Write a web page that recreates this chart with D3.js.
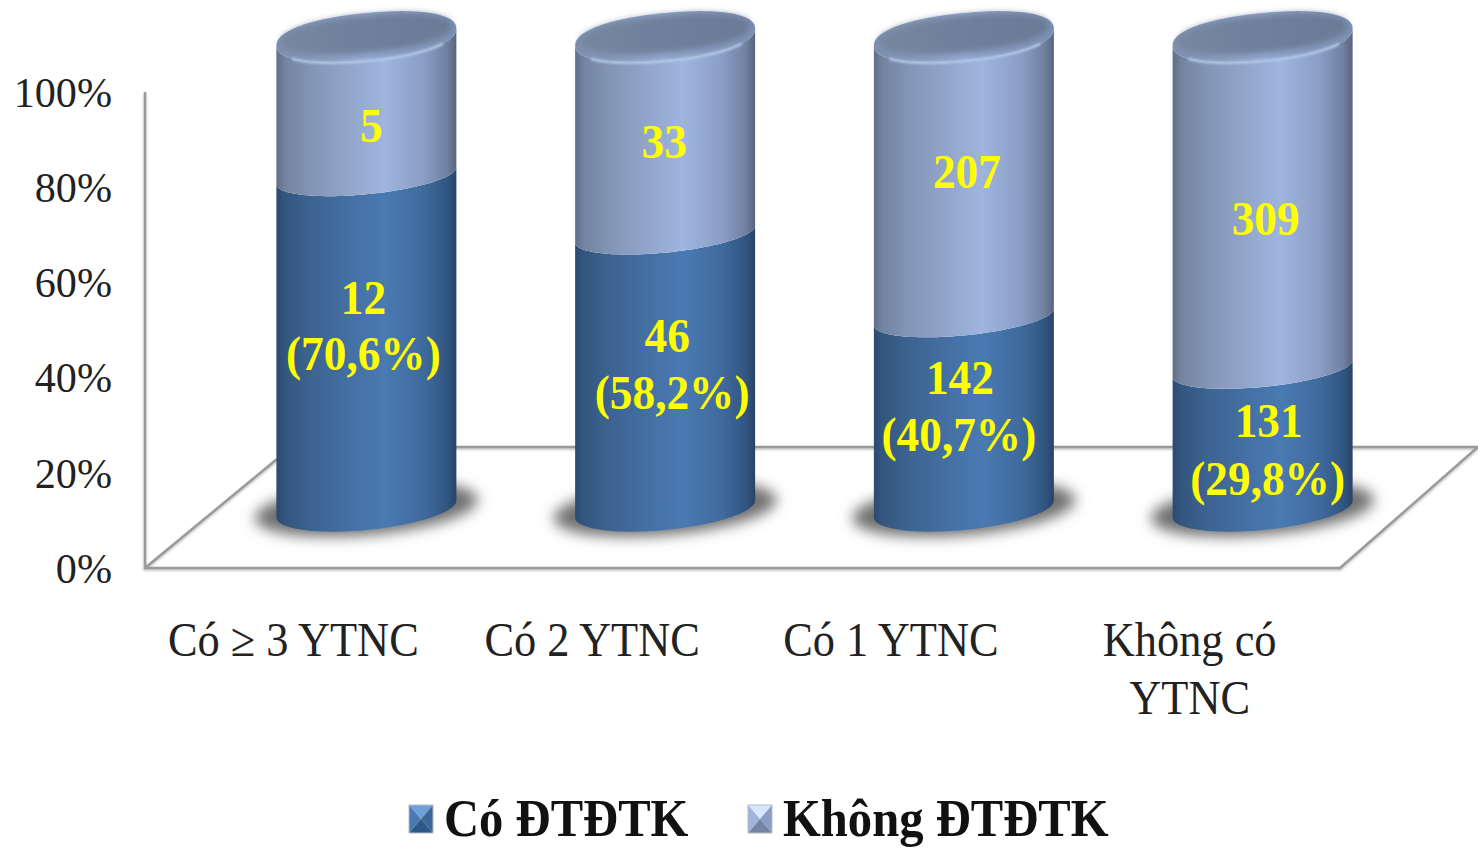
<!DOCTYPE html>
<html>
<head>
<meta charset="utf-8">
<script src="https://cdn.jsdelivr.net/npm/d3@7/dist/d3.min.js"></script>
<style>
  html, body { margin: 0; padding: 0; background: #fff; overflow: hidden; }
  svg { display: block; font-family: "Liberation Serif", serif; }
</style>
</head>
<body>
<svg id="chart" width="1478" height="848"></svg>
<script>
// Risk-factor groups and the patient counts in each of them
const categories = ["Có ≥ 3 YTNC", "Có 2 YTNC", "Có 1 YTNC", "Không có YTNC"];
const categoryLines = [["Có ≥ 3 YTNC"], ["Có 2 YTNC"], ["Có 1 YTNC"], ["Không có", "YTNC"]];
const withDiabetes = [12, 46, 142, 131];
const withoutDiabetes = [5, 33, 207, 309];
const sharePercent = ["70,6%", "58,2%", "40,7%", "29,8%"];
const seriesNames = ["Có ĐTĐTK", "Không ĐTĐTK"];
const tickValues = [0, 0.2, 0.4, 0.6, 0.8, 1];

// Hand-placed label offsets from each segment's middle: [x, y]
const countLabelNudge = [[-3, -44], [2, -36], [-4, -35], [6, -18]];
const shareLabelNudge = [[-3, 12], [7, 21], [-5, 22], [5, 40]];
const upperLabelNudge = [[5, 20], [-1, 6], [3, -5], [3, 16]];

const svg = d3.select("#chart");
const defs = svg.append("defs");

// Floor and wall geometry of the 3D frame
const frontLeft = 145, frontRight = 1340, floorFront = 568, floorBack = 447;
const depthX = 72, radiusX = 90, tiltSlope = 8.5 / 90;

const x = d3.scaleBand().domain(categories).range([frontLeft, frontRight]);
const wallY = d3.scaleLinear().domain([0, 1]).range([floorFront, 92]);
const barY = d3.scaleLinear().domain([0, 1]).range([509, 37]);

const rows = categories.map((c, i) => ({ category: c, yes: withDiabetes[i], no: withoutDiabetes[i] }));
const stacked = d3.stack().keys(["yes", "no"]).offset(d3.stackOffsetExpand)(rows);

// Gradients across the cylinder body
function sideGradient(id, stops) {
  const g = defs.append("linearGradient").attr("id", id);
  stops.forEach(([o, c]) => g.append("stop").attr("offset", o).attr("stop-color", c));
}
sideGradient("sideDark", [[0, "#2b4a72"], [0.05, "#33567f"], [0.2, "#3d6492"], [0.6, "#4a7ab3"], [0.82, "#3f6a9c"], [0.95, "#315580"], [1, "#294466"]]);
sideGradient("sideLight", [[0, "#5f6f8b"], [0.05, "#73849f"], [0.2, "#8496b7"], [0.6, "#9fb5de"], [0.82, "#8a9dc4"], [0.95, "#6f80a0"], [1, "#55647f"]]);
sideGradient("capRim", [[0, "#7d8fae"], [0.5, "#94a9cf"], [1, "#7c8fb2"]]);
sideGradient("capFace", [[0, "#76879f"], [0.5, "#6f7f9c"], [1, "#6b7a96"]]);

const blur = (id, s) => defs.append("filter").attr("id", id)
  .attr("x", "-30%").attr("y", "-60%").attr("width", "160%").attr("height", "220%")
  .append("feGaussianBlur").attr("stdDeviation", s);
blur("shadowBlur", 7);
blur("capBlur", 3);
blur("rimBlur", 1);
blur("lineBlur", 1);

// Sheared ring seen from above. Exponent 2 gives an ellipse, larger values square off the shoulders.
function ringPoint(cx, cy, h, n, t, rx = radiusX) {
  const c = Math.cos(t), s = Math.sin(t);
  const px = Math.sign(c) * Math.pow(Math.abs(c), 2 / n) * rx;
  const py = Math.sign(s) * Math.pow(Math.abs(s), 2 / n) * h;
  return [cx + px, cy + py - px * tiltSlope];
}
// Front half of a ring runs from left (t = PI) to right (t = 0) through the lower side
const frontAngles = d3.range(0, 61).map(i => Math.PI - i * Math.PI / 60);
const fullAngles = d3.range(0, 121).map(i => i * Math.PI / 60);
const line = d3.line();

const capHeight = 24, capPower = 2.2;
const ringShape = v => (v >= 1 ? { h: capHeight, n: capPower } : v <= 0 ? { h: 21, n: 2 } : { h: 18.5, n: 2 });

function segmentPath(cx, v0, v1) {
  const s0 = ringShape(v0), s1 = ringShape(v1);
  const lower = frontAngles.map(t => ringPoint(cx, barY(v0), s0.h, s0.n, t));
  const upper = frontAngles.map(t => ringPoint(cx, barY(v1), s1.h, s1.n, t)).reverse();
  return line(lower.concat(upper)) + "Z";
}
const capPath = (cx, cy, h, rx) => line(fullAngles.map(t => ringPoint(cx, cy, h, capPower, t, rx))) + "Z";

// Frame of the chart: back edge, floor and left wall
const frame = svg.append("g").attr("fill", "none");
function frameLines(sel, color, width) {
  const path = d3.path();
  path.moveTo(frontLeft, wallY(1)); path.lineTo(frontLeft, floorFront);
  path.lineTo(frontRight, floorFront); path.lineTo(1478, floorBack);
  path.lineTo(frontLeft + 132, floorBack);
  path.moveTo(frontLeft, floorFront); path.lineTo(frontLeft + 132, floorBack + 12);
  sel.append("path").attr("d", path.toString()).attr("stroke", color).attr("stroke-width", width);
}
frameLines(frame.append("g").attr("transform", "translate(0,1.5)").attr("filter", "url(#lineBlur)"), "#c8c8c8", 3);
frameLines(frame.append("g"), "#9a9a9a", 2.4);

// Value axis on the left wall
const axis = d3.axisLeft(wallY).tickValues(tickValues).tickSize(0).tickPadding(0)
  .tickFormat(d3.format(".0%"));
const axisG = svg.append("g").attr("transform", "translate(112,0)").call(axis);
axisG.select(".domain").remove();
axisG.selectAll("text").attr("font-family", "Liberation Serif").attr("font-size", 43)
  .attr("fill", "#222").attr("dy", "0.33em").attr("transform", "scale(0.98,1)");

// Cylinders, one per category
const centre = d => x(d) + x.bandwidth() / 2 + depthX;
const bars = svg.append("g").selectAll("g").data(categories).join("g");

bars.append("ellipse")
  .attr("cx", d => centre(d)).attr("cy", barY(0))
  .attr("rx", 112).attr("ry", 26)
  .attr("transform", d => `rotate(-5 ${centre(d)} ${barY(0)})`)
  .attr("fill", "#707070").attr("filter", "url(#shadowBlur)");

stacked.forEach((layer, li) => {
  bars.append("path")
    .attr("d", (d, i) => segmentPath(centre(d), layer[i][0], layer[i][1]))
    .attr("fill", li === 0 ? "url(#sideDark)" : "url(#sideLight)");
});

// Top cap: bevelled rim, a duller face inside it and a highlight along the front edge
bars.append("path").attr("d", d => capPath(centre(d), barY(1), capHeight))
  .attr("fill", "url(#capRim)");
bars.append("path").attr("d", d => capPath(centre(d), barY(1) - 3, capHeight - 5, radiusX - 5))
  .attr("fill", "url(#capFace)").attr("filter", "url(#capBlur)");
bars.append("path")
  .attr("d", d => line(frontAngles.slice(12, 50).map(t => ringPoint(centre(d), barY(1), capHeight, capPower, t))))
  .attr("fill", "none").attr("stroke", "#b4c8ea").attr("stroke-width", 2.5)
  .attr("filter", "url(#rimBlur)");

// Text squeezed horizontally, placed through a transform so the squeeze keeps its anchor
function squeezed(parent, tx, ty, sx, content) {
  return parent.append("text")
    .attr("transform", `translate(${tx},${ty}) scale(${sx},1)`)
    .text(content);
}

// Count and percentage labels on the segments
const labels = svg.append("g").attr("fill", "#ffff00").attr("font-weight", "bold")
  .attr("font-size", 49).attr("text-anchor", "middle");
const labelSqueeze = 0.925, labelDrop = 16;
categories.forEach((c, i) => {
  const cx = centre(c);
  const low = stacked[0][i], up = stacked[1][i];
  const lowMid = barY((low[0] + low[1]) / 2);
  squeezed(labels, cx + countLabelNudge[i][0], lowMid + countLabelNudge[i][1] + labelDrop, labelSqueeze, withDiabetes[i]);
  squeezed(labels, cx + shareLabelNudge[i][0], lowMid + shareLabelNudge[i][1] + labelDrop, labelSqueeze, `(${sharePercent[i]})`);
  squeezed(labels, cx + upperLabelNudge[i][0], barY((up[0] + up[1]) / 2) + upperLabelNudge[i][1] + labelDrop, labelSqueeze, withoutDiabetes[i]);
});

// Category labels under the floor
const catG = svg.append("g").attr("font-size", 48).attr("text-anchor", "middle").attr("fill", "#222");
categories.forEach((c, i) => {
  categoryLines[i].forEach((text, j) => {
    squeezed(catG, x(c) + x.bandwidth() / 2 - 1, 656 + j * 58, 0.925, text);
  });
});

// Legend with pyramid-shaded swatches
const swatchShades = [
  { top: "#6f9fd8", side: "#4a7ab3", low: "#2f5787", mid: "#3d6698" },
  { top: "#d6e6fb", side: "#9fb5de", low: "#74869f", mid: "#8a9dc4" }
];
const legendX = [409, 748];
const s = 24, sh = 28, sy = 805;
seriesNames.forEach((name, i) => {
  const g = svg.append("g").attr("transform", `translate(${legendX[i]},${sy})`);
  const col = swatchShades[i];
  const inset = `${s / 2},${sh / 2}`;
  g.append("polygon").attr("points", `0,0 ${s},0 ${inset}`).attr("fill", col.top);
  g.append("polygon").attr("points", `0,0 0,${sh} ${inset}`).attr("fill", col.side);
  g.append("polygon").attr("points", `${s},0 ${s},${sh} ${inset}`).attr("fill", col.mid);
  g.append("polygon").attr("points", `0,${sh} ${s},${sh} ${inset}`).attr("fill", col.low);
  g.append("rect").attr("width", s).attr("height", sh).attr("fill", "none").attr("stroke", "#b5bcc8");
  squeezed(g, s + 11, 31, 0.935, name).attr("font-size", 52).attr("font-weight", "bold").attr("fill", "#111");
});
</script>
</body>
</html>
